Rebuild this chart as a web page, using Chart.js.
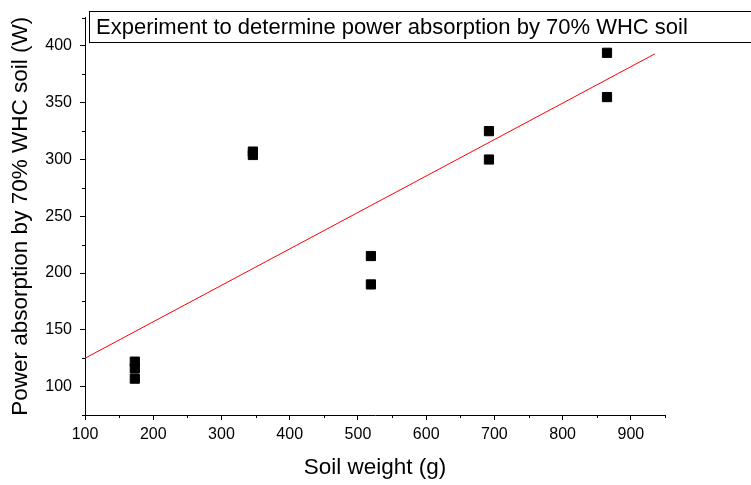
<!DOCTYPE html>
<html>
<head>
<meta charset="utf-8">
<script src="https://cdn.jsdelivr.net/npm/chart.js@4.4.0/dist/chart.umd.min.js"></script>
<style>
  html, body { margin: 0; padding: 0; background: #fff; }
  #wrap { width: 751px; height: 485px; position: relative; }
</style>
</head>
<body>
<div id="wrap"><canvas id="chart"></canvas></div>
<script>
// measured points (soil weight g, power W)
const soilWeight = [173, 173, 173, 346, 346, 519, 519, 692, 692, 865, 865];
const powerAbs = [122, 116, 107, 307, 304, 215, 190, 325, 300, 394, 355];

// linear fit drawn in red
const fitX = [100, 935];
const fitY = [125, 393];

const xMajor = [100, 200, 300, 400, 500, 600, 700, 800, 900];
const xMinor = [150, 250, 350, 450, 550, 650, 750, 850, 950];
const yMajor = [100, 150, 200, 250, 300, 350, 400];
const yMinor = [75, 125, 175, 225, 275, 325, 375, 425];

const legendText = 'Experiment to determine power absorption by 70% WHC soil';

const FONT = 'Arial, "Liberation Sans", sans-serif';

// minor ticks + the legend-like title box
const extras = {
  id: 'extras',
  afterDraw(chart) {
    const ctx = chart.ctx;
    const xs = chart.scales.x, ys = chart.scales.y;
    ctx.save();
    ctx.strokeStyle = '#000';
    ctx.lineWidth = 1;
    ctx.beginPath();
    xMinor.forEach(v => {
      const px = Math.round(xs.getPixelForValue(v)) + 0.5;
      ctx.moveTo(px, xs.top);
      ctx.lineTo(px, xs.top + 3);
    });
    yMinor.forEach(v => {
      const py = Math.round(ys.getPixelForValue(v)) + 0.5;
      ctx.moveTo(ys.right, py);
      ctx.lineTo(ys.right - 3, py);
    });
    ctx.stroke();

    // box
    ctx.fillStyle = '#fff';
    ctx.fillRect(89.5, 11.5, 700, 31);
    ctx.strokeRect(89.5, 11.5, 700, 31);
    ctx.fillStyle = '#000';
    ctx.font = '22px ' + FONT;
    ctx.textBaseline = 'middle';
    ctx.fillText(legendText, 96, 28);
    ctx.restore();
  }
};

const scatterData = soilWeight.map((x, i) => ({ x: x, y: powerAbs[i] }));
const fitData = fitX.map((x, i) => ({ x: x, y: fitY[i] }));

new Chart(document.getElementById('chart'), {
  type: 'scatter',
  data: {
    datasets: [
      {
        label: 'fit',
        type: 'line',
        data: fitData,
        borderColor: '#ff0000',
        borderWidth: 1,
        pointRadius: 0,
        fill: false
      },
      {
        label: 'data',
        data: scatterData,
        pointStyle: 'rect',
        pointRadius: 6.5,
        backgroundColor: '#000',
        borderColor: '#000',
        borderWidth: 1
      }
    ]
  },
  options: {
    responsive: true,
    maintainAspectRatio: false,
    animation: false,
    layout: { padding: { left: 0, top: 10, right: 86, bottom: 0 } },
    plugins: {
      legend: { display: false },
      tooltip: { enabled: false }
    },
    scales: {
      x: {
        type: 'linear',
        min: 100,
        max: 950,
        afterBuildTicks: s => { s.ticks = xMajor.map(v => ({ value: v })); },
        afterFit: s => { s.height = 70; },
        border: { display: true, color: '#000', width: 1 },
        grid: { drawOnChartArea: false, drawTicks: true, tickLength: 5, color: '#000' },
        ticks: { color: '#000', padding: 5, maxRotation: 0, font: { family: FONT, size: 16 } },
        title: {
          display: true,
          text: 'Soil weight (g)',
          color: '#000',
          font: { family: FONT, size: 22.5 },
          padding: { top: 5, bottom: 4 }
        }
      },
      y: {
        type: 'linear',
        min: 75,
        max: 425,
        afterBuildTicks: s => { s.ticks = yMajor.map(v => ({ value: v })); },
        afterFit: s => { s.width = 85; },
        border: { display: true, color: '#000', width: 1 },
        grid: { drawOnChartArea: false, drawTicks: true, tickLength: 5, color: '#000' },
        ticks: { color: '#000', padding: 8, font: { family: FONT, size: 16 } },
        title: {
          display: true,
          text: 'Power absorption by 70% WHC soil (W)',
          color: '#000',
          font: { family: FONT, size: 22.5 },
          padding: { top: 7, bottom: 7 }
        }
      }
    }
  },
  plugins: [extras]
});
</script>
</body>
</html>
